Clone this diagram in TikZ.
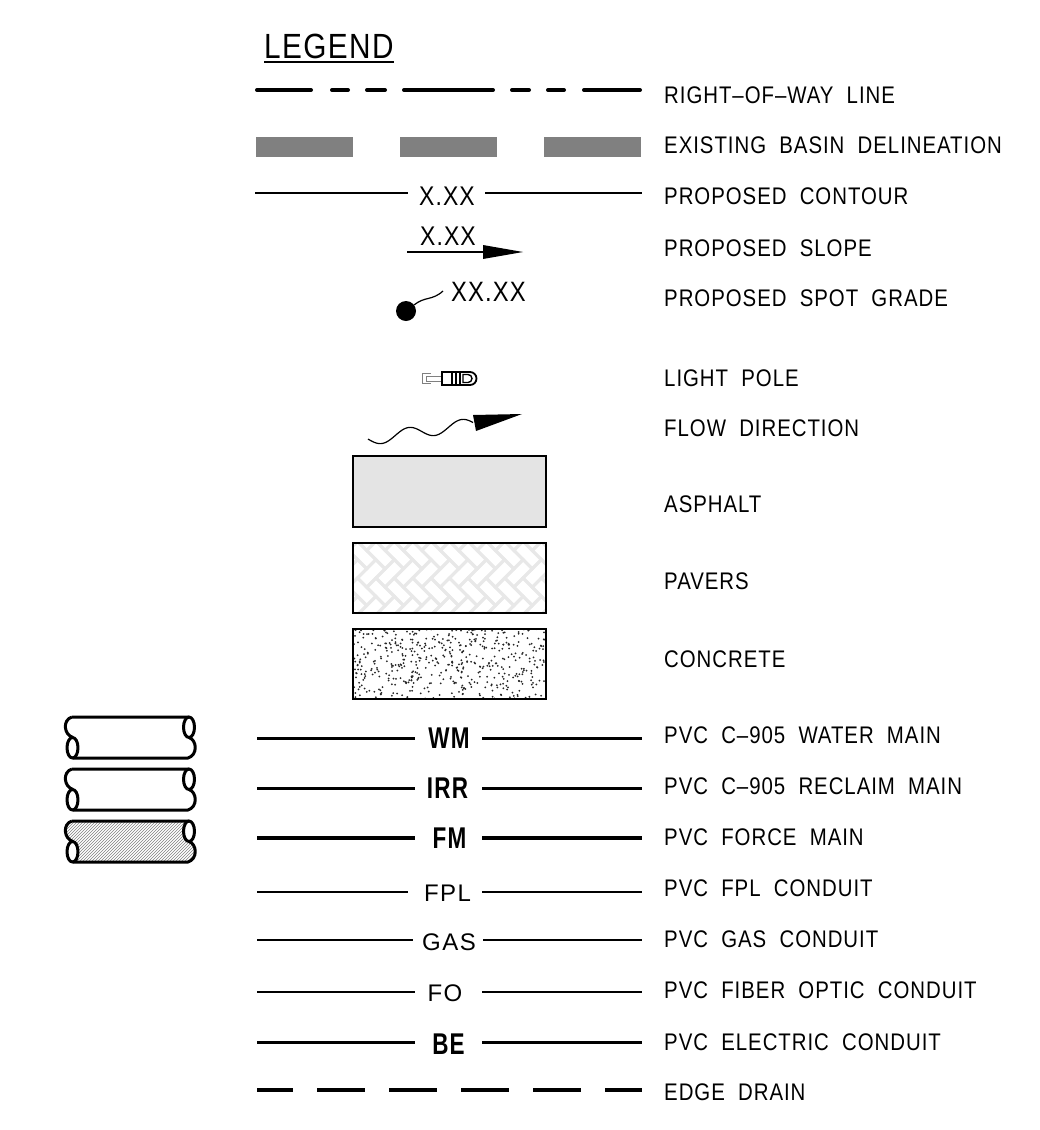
\documentclass[tikz,border=0pt]{standalone}
\usepackage{fontspec}
\usepackage{tikz}
\usetikzlibrary{positioning,calc,patterns}
\newfontfamily\cadfont{Liberation Sans}[FakeStretch=0.85,LetterSpace=4,WordSpace=2]
\newfontfamily\cadthin{Liberation Sans}[LetterSpace=6]
\newfontfamily\cadbold{Liberation Sans Bold}[FakeStretch=0.75,LetterSpace=4]

\begin{document}
\begin{tikzpicture}[x=1pt, y=-1pt,
    lbl/.style={anchor=west, inner sep=0pt, font=\cadfont\fontsize{24}{24}\selectfont},
    tag/.style={inner sep=0pt, font=\cadthin\fontsize{24}{24}\selectfont},
    midtag/.style={inner sep=0pt, font=\cadfont\fontsize{27}{27}\selectfont},
    bigtag/.style={inner sep=0pt, font=\cadbold\fontsize{30}{30}\selectfont},
    thinline/.style={line width=1.3},
    heavyline/.style={line width=3},
    box/.style={line width=2.5},
    pipeline/.style={line width=3, line join=round},
    pipeopen/.style={fill=white},
    pipehatch/.style={pattern=north east lines, pattern color=gray},
    paverline/.style={draw=gray!18, line width=3}]
        \useasboundingbox (0,0) rectangle (1039,1130);

        % Title
        \node[inner sep=0pt, anchor=base west, font=\cadfont\fontsize{35}{35}\selectfont] (title) at (264,58) {LEGEND};
        \draw[line width=2] ($(title.base west)+(0,4)$) -- ($(title.base east)+(0,4)$);

        % Right-of-way line
        \foreach \a/\b in {257/311,332/348,367/385,404/493,512/529,548/564,584/640}
            \draw[line width=4, line cap=round] (\a,90) -- (\b,90);
        \node[lbl] (row) at (664,95) {RIGHT–OF–WAY LINE};

        % Existing basin
        \draw[line width=20, gray, dash pattern=on 97 off 47] (256,147) -- (641,147);
        \node[lbl] (basin) at (664,145) {EXISTING BASIN DELINEATION};

        % Proposed contour
        \node[midtag] (contval) at (447,196) {X.XX};
        \draw[line width=1.5] (255,193) -- (408,193) (485,193) -- (642,193);
        \node[lbl] (contour) at (664,196.5) {PROPOSED CONTOUR};

        % Proposed slope
        \node[midtag] (slopeval) at (448,236) {X.XX};
        \draw[line width=2] (407,252) -- (484,252);
        \fill (483,245) -- (523,252) -- (483,259) -- cycle;
        \node[lbl] (slope) at (664,248) {PROPOSED SLOPE};

        % Spot grade
        \fill (406,311) circle (10);
        \draw[line width=1.2] (414,305) .. controls (425,296) and (432,301) .. (443,291);
        \node[midtag, anchor=west, font=\cadfont\fontsize{28}{28}\selectfont] (spotval) at (451,292) {XX.XX};
        \node[lbl] (spot) at (664,298.5) {PROPOSED SPOT GRADE};

        % Light pole
        \draw[gray, line width=1] (431,373) -- (422,373) -- (422,383) -- (431,383);
        \draw[gray, line width=1] (442,376) -- (426,376) -- (426,381) -- (442,381);
        \draw[line width=1.8] (442,372) rectangle (460,385) (452,372) -- (452,385) (456,372) -- (456,385);
        \draw[line width=1.8] (460,372) -- (470,372) arc (-90:90:6.5) -- (460,385);
        \draw[line width=1.4] (463,374.5) -- (468,374.5) arc (-90:90:4) -- (463,382.5) -- cycle;
        \node[lbl] (pole) at (664,378) {LIGHT POLE};

        % Flow direction
        \draw[line width=1.2] plot[domain=368:473, samples=60] (\x, {437.5 - 0.151*(\x-382) + 6*cos(6.7925*(\x-382))});
        \fill (473,415) -- (522,414) -- (476,431) -- cycle;
        \node[lbl] (flow) at (664,428) {FLOW DIRECTION};

        % Asphalt
        \draw[box, fill=gray!21] (353,456) rectangle (546,527);
        \node[lbl] (asphalt) at (664,504) {ASPHALT};

        % Pavers (herringbone)
        \begin{scope}
            \clip (353,543) rectangle (546,613);
            \begin{scope}[shift={(449.5,578)}, rotate=45, scale=13]
                \foreach \k in {-11,...,11}
                    \foreach \j in {-6,...,6} {
                        \draw[paverline] ({\k+2*\j},{\k-2*\j}) rectangle ++(2,1);
                        \draw[paverline] ({\k+2*\j},{\k-2*\j+1}) rectangle ++(1,2);
                    }
            \end{scope}
        \end{scope}
        \draw[box] (353,543) rectangle (546,613);
        \node[lbl] (pavers) at (664,581) {PAVERS};

        % Concrete (stipple)
        \begin{scope}
            \clip (353,629) rectangle (546,699);
            \pgfmathsetseed{11}
            \foreach \i in {1,...,520} {
                \pgfmathsetmacro\px{353+193*rnd}
                \pgfmathsetmacro\py{629+70*rnd}
                \fill[black!85] (\px,\py) circle (1);
            }
        \end{scope}
        \draw[box] (353,629) rectangle (546,699);
        \node[lbl] (concrete) at (664,659) {CONCRETE};

        % Pipe symbols
        \foreach \t/\sty in {717/pipeopen,769/pipeopen,821/pipehatch} {
            \fill[\sty] (72,\t) -- (189,\t) -- (189,\t+20.5) .. controls (197,\t+23) and (198,\t+38) .. (188,\t+41)
                -- (72.5,\t+41) -- (73,\t+20.5) .. controls (64,\t+18) and (62,\t+3) .. (72,\t);
            \draw[pipeline, fill=white] (72.5,\t+30.75) ellipse (5.5 and 10.25);
            \draw[pipeline, fill=white] (189,\t+10.25) ellipse (5.5 and 10.25);
            \draw[pipeline] (72,\t) -- (189,\t) (189,\t+20.5) .. controls (197,\t+23) and (198,\t+38) .. (188,\t+41)
                -- (72.5,\t+41) (73,\t+20.5) .. controls (64,\t+18) and (62,\t+3) .. (72,\t);
        }

        % Utility lines
        \node[bigtag] (wm) at (449,738) {WM};
        \draw[heavyline] (257,738) -- (415,738) (482,738) -- (642,738);
        \node[lbl] (water) at (664,735) {PVC C–905 WATER MAIN};

        \node[bigtag] (irr) at (447.5,788) {IRR};
        \draw[heavyline] (257,788) -- (415,788) (482,788) -- (642,788);
        \node[lbl] (reclaim) at (664,786) {PVC C–905 RECLAIM MAIN};

        \node[bigtag] (fm) at (449.5,838) {FM};
        \draw[line width=3.5] (257,838) -- (415,838) (482,838) -- (642,838);
        \node[lbl] (force) at (664,837) {PVC FORCE MAIN};

        \node[tag] (fpl) at (447.5,893) {FPL};
        \draw[thinline] (257,892) -- (408,892) (482,892) -- (642,892);
        \node[lbl] (fplc) at (664,888) {PVC FPL CONDUIT};

        \node[tag] (gas) at (449,942) {GAS};
        \draw[thinline] (257,940) -- (413,940) (483,940) -- (642,940);
        \node[lbl] (gasc) at (664,939) {PVC GAS CONDUIT};

        \node[tag] (fo) at (445,993) {FO};
        \draw[thinline] (257,992) -- (415,992) (482,992) -- (642,992);
        \node[lbl] (fiber) at (664,990) {PVC FIBER OPTIC CONDUIT};

        \node[bigtag] (be) at (448.5,1044) {BE};
        \draw[heavyline] (257,1042) -- (415,1042) (482,1042) -- (642,1042);
        \node[lbl] (electric) at (664,1042) {PVC ELECTRIC CONDUIT};

        % Edge drain
        \draw[line width=4, dash pattern=on 48 off 24, dash phase=12] (257,1090) -- (642,1090);
        \node[lbl] (drain) at (664,1092) {EDGE DRAIN};
    \end{tikzpicture}
\end{document}
